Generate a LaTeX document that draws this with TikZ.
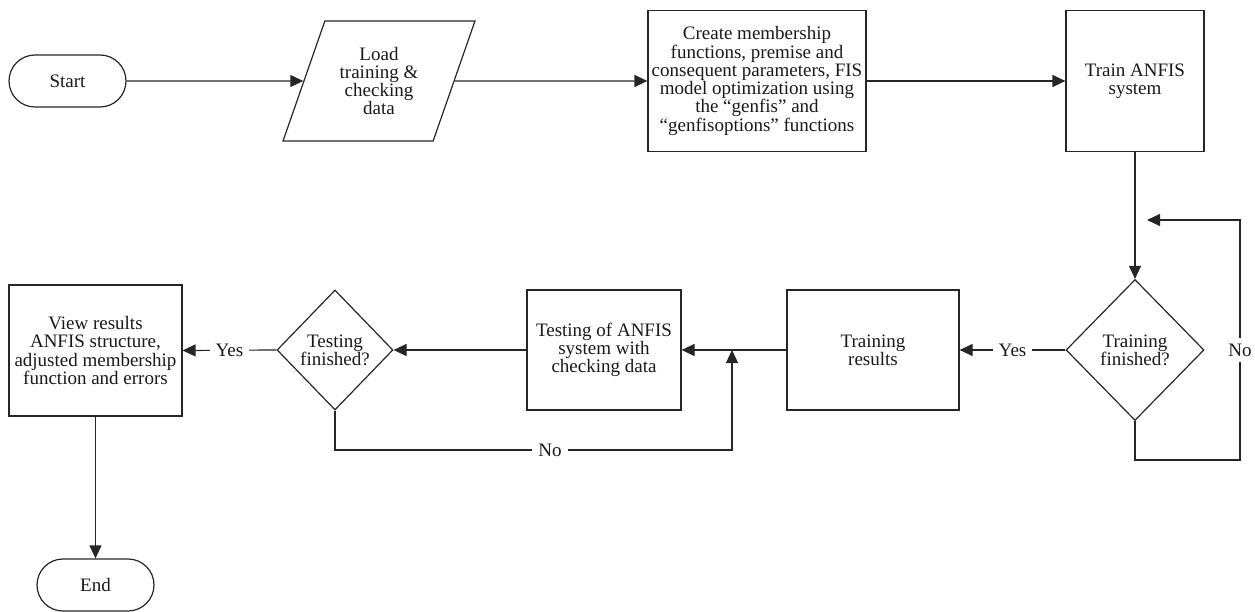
\documentclass[tikz,border=0pt]{standalone}
\usepackage{fontspec}
\setmainfont{Liberation Serif}
\usetikzlibrary{shapes.geometric,shapes.misc,arrows.meta}
\begin{document}
\begin{tikzpicture}[x=1pt,y=-1pt,
  every node/.style={font=\fontsize{19}{18.3}\selectfont, align=center, inner sep=0pt, text=black!90},
  ln/.style={draw=black!85, line width=1.2pt},
  arr/.style={ln, -{Triangle[length=13pt,width=12pt]}},
  term/.style={ln, rounded rectangle, minimum width=117pt, minimum height=52pt},
  io/.style={ln, trapezium, trapezium left angle=66, trapezium right angle=114, trapezium stretches=true, minimum width=192pt, minimum height=120pt},
  proc/.style={ln, rectangle},
  dec/.style={ln, diamond},
  lab/.style={fill=white, inner xsep=6pt, inner ysep=3pt}
]
\useasboundingbox (0,0) rectangle (1255,612);
\node[term] (start) at (67.5,81) {Start};
\node[io] (load) at (379,81) {Load\\training \&\\checking\\data};
\node[proc, minimum width=218pt, minimum height=141pt] (create) at (757,81)
  {Create membership\\functions, premise and\\consequent parameters, FIS\\model optimization using\\the “genfis” and\\“genfisoptions” functions};
\node[proc, minimum width=138pt, minimum height=141pt] (train) at (1135,81) {Train ANFIS\\system};
\node[dec, minimum width=138pt, minimum height=141pt] (tf) at (1135,350) {Training\\finished?};
\node[proc, minimum width=172pt, minimum height=120pt] (tr) at (873,350) {Training\\results};
\node[proc, minimum width=154pt, minimum height=120pt] (test) at (604,350) {Testing of ANFIS\\system with\\checking data};
\node[dec, minimum width=116pt, minimum height=120pt] (td) at (335,350) {Testing\\finished?};
\node[proc, minimum width=173pt, minimum height=131pt] (view) at (95.5,350.5) {View results\\ANFIS structure,\\adjusted membership\\function and errors};
\node[term] (end) at (95.5,585) {End};

\coordinate (loopin) at (1147,220);
\coordinate (j) at (732,350);

\draw[arr] (start) -- (load);
\draw[arr] (load) -- (create);
\draw[arr] (create) -- (train);
\draw[arr] (train.south) -- (tf.north);
\draw[arr] (tf.south) -- (1135,460) -- (1240,460) -- (1240,220) -- (loopin);
\node[lab, inner xsep=3pt, inner ysep=6pt] (no1) at (1240,350) {No};
\draw[arr] (tf.west) -- node[lab] (yes1) {Yes} (tr.east);
\draw[arr] (tr.west) -- (test.east);
\draw[arr] (td.south) -- (335,450) -- (732,450) -- (j);
\node[lab] (no2) at (550,450) {No};
\draw[arr] (test.west) -- (td.east);
\draw[arr] (td.west) -- node[lab] (yes2) {Yes} (view.east);
\draw[arr] (view.south) -- (end.north);
\end{tikzpicture}
\end{document}
